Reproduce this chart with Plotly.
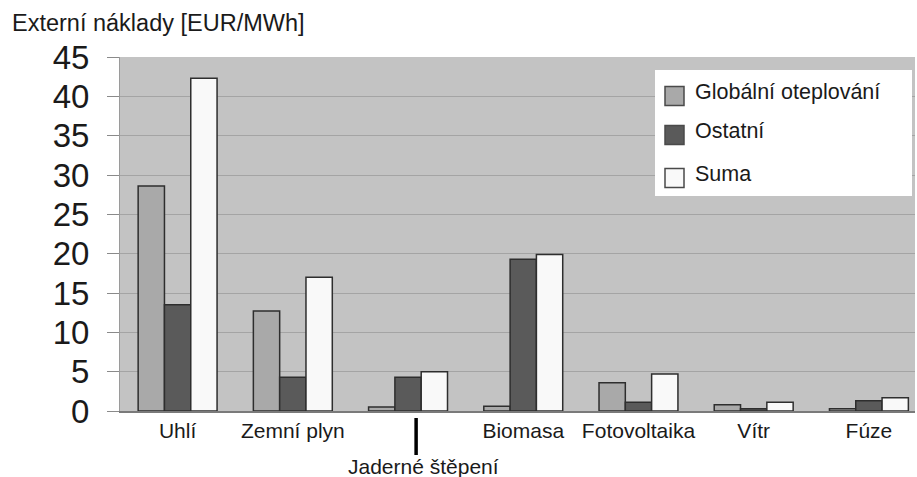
import plotly.graph_objects as go

# Externí náklady výroby elektřiny podle zdroje [EUR/MWh]
categories = ["Uhlí", "Zemní plyn", "Jaderné štěpení", "Biomasa", "Fotovoltaika", "Vítr", "Fúze"]
tick_labels = ["Uhlí", "Zemní plyn", "", "Biomasa", "Fotovoltaika", "Vítr", "Fúze"]
series_names = ["Globální oteplování", "Ostatní", "Suma"]
globalni = [28.6, 12.7, 0.5, 0.6, 3.6, 0.8, 0.3]
ostatni = [13.5, 4.3, 4.3, 19.3, 1.1, 0.3, 1.3]
suma = [42.3, 17.0, 5.0, 19.9, 4.7, 1.1, 1.7]
y_ticks = [0, 5, 10, 15, 20, 25, 30, 35, 40, 45]

colors = ["#a9a9a9", "#5a5a5a", "#f9f9f9"]
outline = "#2e2e2e"
FONT = "Liberation Sans, Arial, Helvetica, sans-serif"

W, H = 917, 477
M_L, M_R, M_T, M_B = 120, 2, 57, 66
plot_w = W - M_L - M_R
plot_h = H - M_T - M_B


def px(x):
    return (x - M_L) / plot_w


def py(y):
    return (H - M_B - y) / plot_h


xs = list(range(len(categories)))
fig = go.Figure()
for name, vals, col in zip(series_names, [globalni, ostatni, suma], colors):
    fig.add_trace(go.Bar(
        x=xs, y=vals, name=name, showlegend=False,
        marker=dict(color=col, line=dict(color=outline, width=1.5)),
    ))

fig.update_layout(
    width=W, height=H,
    margin=dict(l=M_L, r=M_R, t=M_T, b=M_B),
    paper_bgcolor="white",
    plot_bgcolor="#c3c3c3",
    barmode="group", bargap=0.315, bargroupgap=0,
    font=dict(family=FONT, color="#1a1a1a"),
    showlegend=False,
)
fig.update_xaxes(
    range=[-0.5, 6.4], tickmode="array", tickvals=xs, ticktext=tick_labels,
    tickfont=dict(size=21, family=FONT, color="#1a1a1a"),
    showgrid=False, ticks="", showline=True, linecolor="#7a7a7a", linewidth=1.5,
    zeroline=False,
)
fig.update_yaxes(
    range=[0, 45], tickmode="array", tickvals=y_ticks,
    tickfont=dict(size=33, family=FONT, color="#1a1a1a"),
    showgrid=True, gridcolor="#a4a4a4", gridwidth=1,
    ticks="outside", ticklen=12, tickcolor="#8a8a8a", tickwidth=1,
    ticklabelstandoff=11,
    showline=True, linecolor="#9a9a9a", linewidth=1, zeroline=False,
)

# title of the y quantity
fig.add_annotation(
    xref="paper", yref="paper", x=px(10), y=py(23), xanchor="left", yanchor="middle",
    text="Externí náklady [EUR/MWh]", showarrow=False,
    font=dict(size=23.5, family=FONT, color="#1a1a1a"),
)

# label for the nuclear group, set below the axis with a marker line
fig.add_shape(type="line", xref="x", yref="paper", x0=2.07, x1=2.07,
              y0=py(418), y1=py(455), line=dict(color="black", width=3.5))
fig.add_annotation(
    xref="x", yref="paper", x=2.13, y=py(466), xanchor="center", yanchor="middle",
    text=categories[2], showarrow=False,
    font=dict(size=21, family=FONT, color="#1a1a1a"),
)

# legend box
fig.add_shape(type="rect", xref="paper", yref="paper", layer="above",
              x0=px(655), x1=px(912), y0=py(196), y1=py(70),
              fillcolor="white", line=dict(width=0))
swatch_y = [96, 135, 178]
text_y = [92, 131, 174]
for name, col, sy, ty in zip(series_names, colors, swatch_y, text_y):
    fig.add_shape(type="rect", xref="paper", yref="paper", layer="above",
                  x0=px(665), x1=px(684), y0=py(sy + 9.5), y1=py(sy - 9.5),
                  fillcolor=col, line=dict(color="#4a4a4a", width=1.5))
    fig.add_annotation(
        xref="paper", yref="paper", x=px(693), y=py(ty), xanchor="left", yanchor="middle",
        text=name, showarrow=False,
        font=dict(size=21.5, family=FONT, color="#1a1a1a"),
    )

fig.write_html("out.html")
